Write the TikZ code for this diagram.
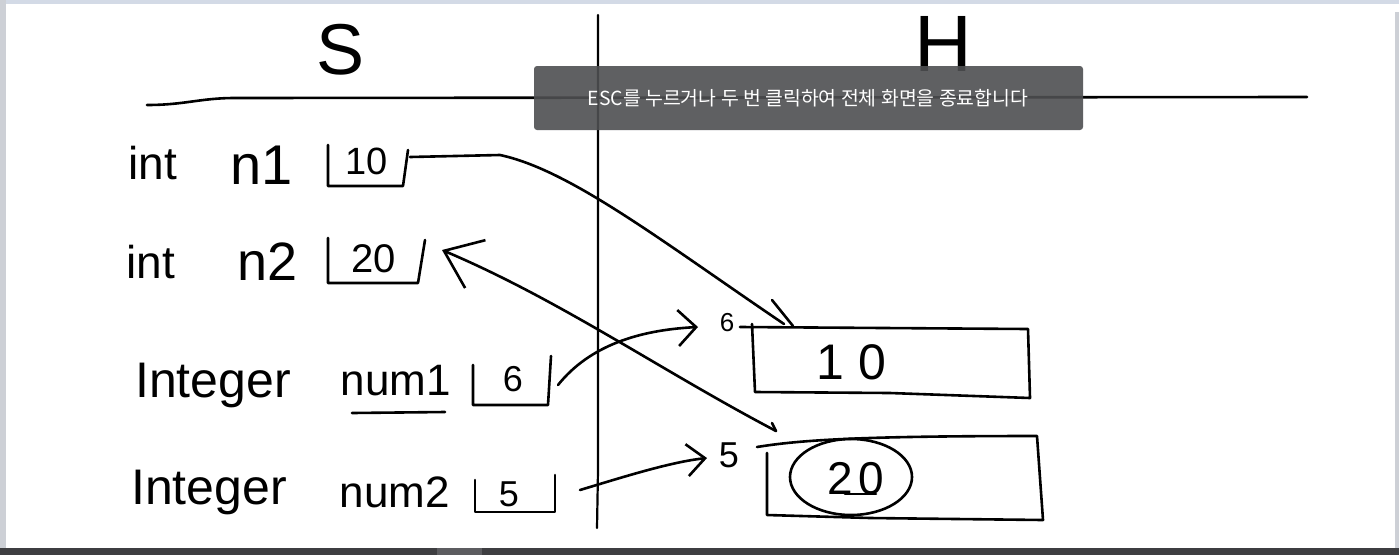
\documentclass[tikz,border=0pt]{standalone}
\usepackage{fontspec}
\setmainfont{Liberation Sans}
\newfontfamily\krfont{Noto Sans CJK KR}
\usetikzlibrary{arrows.meta}
\definecolor{topstrip}{RGB}{211,218,230}
\definecolor{sidestrip}{RGB}{205,208,214}
\definecolor{barcol}{RGB}{62,62,65}
\definecolor{barlight}{RGB}{92,92,96}
\definecolor{toastcol}{RGB}{78,79,81}
\tikzset{
  ink/.style={line width=2.6pt, line cap=round, line join=round, draw=black},
  thinink/.style={line width=2.2pt, line cap=round, line join=round, draw=black},
  lbl/.style={inner sep=0pt, font=\fontsize{#1}{#1}\selectfont},
  toast/.style={fill=toastcol, fill opacity=0.9, rounded corners=3pt, draw=none},
  toasttext/.style={inner sep=0pt, text=white, font=\krfont\fontsize{19.4}{20}\selectfont},
}
\begin{document}
\begin{tikzpicture}[x=1pt,y=-1pt]
\useasboundingbox (0,0) rectangle (1399,555);
\fill[white] (0,0) rectangle (1399,555);
% window edges
\fill[topstrip] (0,0) rectangle (1399,4);
\fill[sidestrip] (0,0) rectangle (6,548);
\fill[sidestrip] (1395,12) rectangle (1399,548);
\fill[barcol] (0,548) rectangle (1399,555);
\fill[barlight] (437,548) rectangle (482,555);

% headers
\node[lbl=72] (S) at (341,50) {S};
\node[lbl=80] (H) at (943,44) {H};
\draw[ink] (147,105) .. controls (185,105) and (200,98) .. (235,98) -- (1307,97);
\draw[thinink] (598,15) -- (598,470) -- (597,528);

% stack side labels
\node[lbl=46] (int1) at (153,163) {int};
\node[lbl=56] (n1) at (262,165) {n1};
\node[lbl=46] (int2) at (151,262) {int};
\node[lbl=54] (n2) at (268,262) {n2};
\node[lbl=50] (Int1) at (213,385) {Integer};
\node[lbl=44] (num1) at (396,381) {num1};
\draw[ink] (352,413) -- (445,412);
\node[lbl=50] (Int2) at (209,492) {Integer};
\node[lbl=44] (num2) at (395,492) {num2};

% stack value boxes
\node[lbl=38] (v10) at (367,161) {10};
\draw[ink] (328,145) -- (328,186) -- (403,186) -- (408,150);
\coordinate (b1out) at (410,157);
\node[lbl=40] (v20) at (374,259) {20};
\draw[ink] (328,238) -- (328,283) -- (418,283) -- (425,240);
\coordinate (b2in) at (442,250);
\node[lbl=36] (v6) at (513,379) {6};
\draw[ink] (473,365) -- (473,405) -- (548,405) -- (551,356);
\coordinate (b3out) at (558,385);
\node[lbl=36] (v5) at (509,494) {5};
\draw[ink] (475,480) -- (475,512) -- (555,512) -- (555,475);
\coordinate (b4out) at (580,490);

% heap objects
\node[lbl=26] (addr6) at (727,323) {6};
\node[lbl=36] (addr5) at (729,455) {5};
\draw[ink] (740,327) -- (1028,329) -- (1030,398) -- (890,393) -- (755,392) -- (752,324);
\node[lbl=50] (h10) at (851,362) {1\hspace{14pt}0};
\draw[ink] (757,447) .. controls (800,440) and (860,436) .. (1037,436) -- (1043,520) -- (870,518) -- (767,515) -- (767,453);
\node[lbl=46] (h20) at (856,479) {2\hspace{6pt}0};
\draw[ink] (845,494) -- (876,494);
\draw[ink] (851,477) ellipse [x radius=61, y radius=38];
\coordinate (hAin) at (784,324);
\coordinate (hBout) at (776,431);
\coordinate (a6in) at (698,327);
\coordinate (a5in) at (707,458);

% connectors
\draw[ink] (b1out) -- (500,155) .. controls (570,170) and (660,240) .. (hAin);
\draw[ink] (793,326) -- ++(-21,-26);
\draw[ink, {Straight Barb[length=34pt,width=52pt]}-] (b2in) .. controls (560,300) and (660,370) .. (hBout);
\draw[ink] (hBout) -- ++(-4,-8);
\draw[ink, -{Straight Barb[length=18pt,width=36pt]}] (b3out) .. controls (590,345) and (640,330) .. (a6in);
\draw[ink, -{Straight Barb[length=18pt,width=32pt]}] (b4out) .. controls (620,478) and (670,462) .. (a5in);

% fullscreen toast
\fill[toast] (534,66) rectangle (1083,130);
\node[toasttext] (toastmsg) at (808,98) {ESC를 누르거나 두 번 클릭하여 전체 화면을 종료합니다};
\end{tikzpicture}
\end{document}
